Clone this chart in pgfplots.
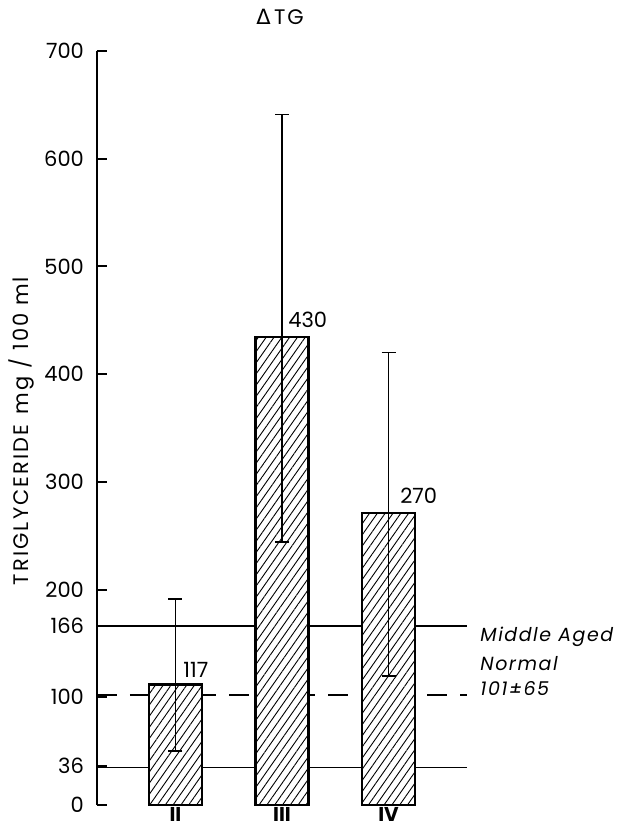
\documentclass[border=0pt]{standalone}
\usepackage{fontspec}
\setmainfont{Poppins}
\newfontfamily\greekfont{DejaVu Sans}
\usepackage{pgfplots}
\pgfplotsset{compat=1.18}
\usetikzlibrary{patterns.meta}
\begin{document}
\begin{tikzpicture}
\begin{axis}[
  at={(0,0)}, anchor=south west,
  scale only axis, width=185pt, height=377pt,
  xmin=0.263, xmax=3.737, ymin=0, ymax=700,
  axis lines=left,
  axis line style={line width=1pt, -},
  x axis line style={draw=none},
  xtick={1,2,3}, xticklabels={II,III,IV},
  xticklabel style={font=\rmfamily\bfseries\fontsize{10}{11}\selectfont, yshift=2.5pt},
  xtick style={draw=none},
  ytick={0,36,100,166,200,300,400,500,600,700},
  ytick style={line width=1pt, black},
  tick align=inside, major tick length=5pt,
  yticklabel style={font=\fontsize{10.5}{12}\selectfont, xshift=-3pt},
  /pgf/number format/assume math mode=true,
  /pgf/number format/1000 sep={},
  clip=false,
  ylabel={TRIGLYCERIDE\enspace mg / 100 ml},
  every axis y label/.style={at={(axis description cs:-0.205,0.496)}, rotate=90, anchor=center, font=\addfontfeature{LetterSpace=10}\fontsize{10.5}{12}\selectfont},
]
\addplot[line width=0.75pt, black] coordinates {(0.263,166) (3.737,166)};
\addplot[line width=0.75pt, black] coordinates {(0.263,35) (3.737,35)};
\addplot[line width=0.75pt, black, dash pattern=on 10pt off 6.5pt] coordinates {(0.263,102) (3.737,102)};
\addplot[ybar, bar width=0.5, draw=black, line width=1.2pt,
  preaction={fill=white},
  pattern={Lines[angle=55,distance=3.2pt,line width=0.45pt]},
  error bars/.cd, y dir=both, y explicit,
  error bar style={line width=0.75pt, black, solid},
  error mark=-,
  error mark options={rotate=90, mark size=3.5pt, line width=0.8pt, black, solid}]
  table[x=x, y=y, y error plus=ep, y error minus=em] {
x y ep em
1 112 79 62
2 434.5 206.5 190.5
3 271 149 151
};
\node[anchor=south west, inner sep=0, font=\fontsize{10.5}{12}\selectfont] at (axis cs:1.07,118) {117};
\node[anchor=south west, inner sep=0, font=\fontsize{10.5}{12}\selectfont] at (axis cs:2.056,443) {430};
\node[anchor=south west, inner sep=0, font=\fontsize{10.5}{12}\selectfont] at (axis cs:3.108,279.5) {270};
\node[anchor=west, inner sep=0, font=\itshape\addfontfeature{LetterSpace=8}\fontsize{9.5}{11}\selectfont] at (axis cs:3.859,156) {Middle Aged};
\node[anchor=west, inner sep=0, font=\itshape\addfontfeature{LetterSpace=8}\fontsize{9.5}{11}\selectfont] at (axis cs:3.859,131) {Normal};
\node[anchor=west, inner sep=0, font=\itshape\addfontfeature{LetterSpace=8}\fontsize{9.5}{11}\selectfont] at (axis cs:3.859,108.5) {101±65};
\node[inner sep=0, font=\addfontfeature{LetterSpace=8}\fontsize{10.5}{12}\selectfont] at (axis cs:1.981,732) {{\greekfont Δ}\,TG};
\end{axis}
\pgfresetboundingbox
\path[use as bounding box] (-48.5pt,-12pt) rectangle (262pt,402.5pt);
\end{tikzpicture}
\end{document}
